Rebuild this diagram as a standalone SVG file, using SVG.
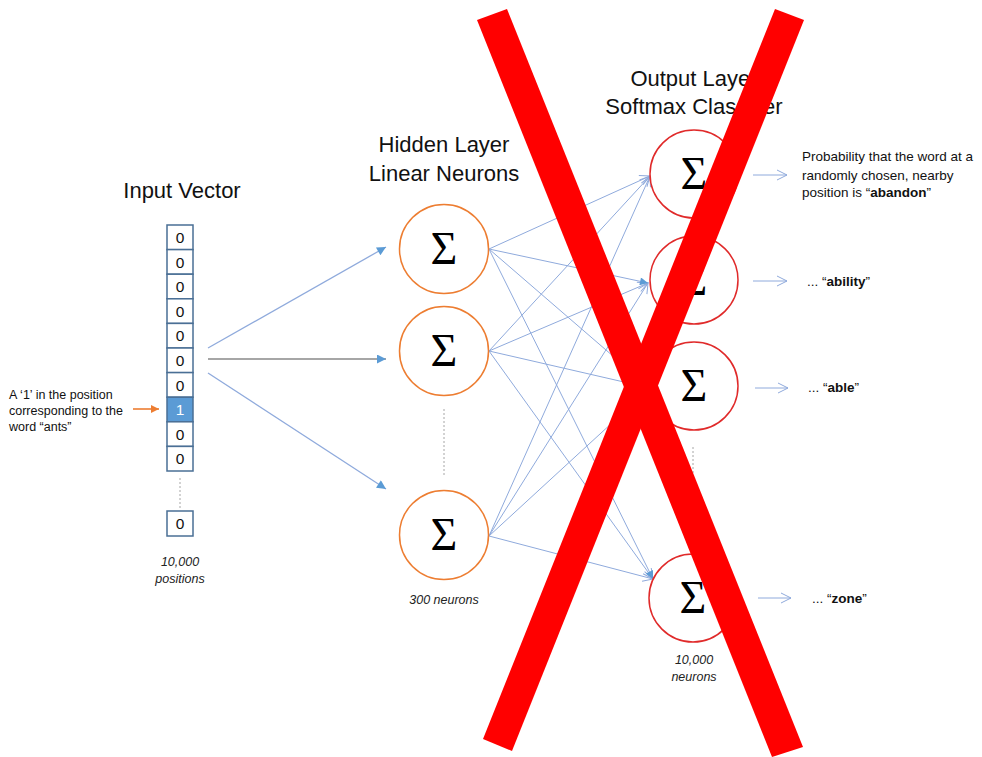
<svg xmlns="http://www.w3.org/2000/svg" width="982" height="757" viewBox="0 0 982 757">
  <style>
    .title { font-family: "Liberation Sans", Arial, sans-serif; font-size: 22px; fill: #111; text-anchor: middle; }
    .note { font-family: "Liberation Sans", Arial, sans-serif; font-size: 13.5px; fill: #111; }
    .note.left { font-size: 12.5px; }
    .cap { font-family: "Liberation Sans", Arial, sans-serif; font-size: 12.5px; font-style: italic; fill: #222; text-anchor: middle; }
    .cell { fill: #fff; stroke: #4a6f95; stroke-width: 1.5; }
    .cell.hot { fill: #5b9bd5; }
    .digit { font-family: "Liberation Sans", Arial, sans-serif; font-size: 15.5px; fill: #111; text-anchor: middle; }
    .digit.hot { fill: #fff; }
    .hidden { fill: #fff; stroke: #ed7d31; stroke-width: 1.5; }
    .output { fill: #fff; stroke: #e02a2a; stroke-width: 1.5; }
    .sigma { font-family: "Liberation Serif", "DejaVu Serif", serif; font-size: 46px; fill: #000; text-anchor: middle; }
    .dots { stroke: #a6a6a6; stroke-width: 1; stroke-dasharray: 2 2; fill: none; }
    .link { stroke: #8faadc; stroke-width: 1; fill: none; }
    .feed { stroke: #8faadc; stroke-width: 1.3; fill: none; marker-end: url(#tri); }
    .feed.mid { stroke: #a6a6a6; stroke-width: 2; }
    .cross { fill: #ff0000; }
  </style>
  <defs>
    <marker id="tri" viewBox="0 0 10 10" refX="10" refY="5" markerWidth="11" markerHeight="9" markerUnits="userSpaceOnUse" orient="auto">
      <path d="M0,0 L10,5 L0,10 z" fill="#5b9bd5"/>
    </marker>
    <marker id="triSmall" viewBox="0 0 10 10" refX="10" refY="5" markerWidth="9" markerHeight="8" markerUnits="userSpaceOnUse" orient="auto">
      <path d="M0,0 L10,5 L0,10 z" fill="#5b9bd5"/>
    </marker>
    <marker id="chev" viewBox="0 0 12 12" refX="11" refY="6" markerWidth="12" markerHeight="12" markerUnits="userSpaceOnUse" orient="auto">
      <path d="M1,1 L11,6 L1,11" fill="none" stroke="#8faadc" stroke-width="1"/>
    </marker>
    <marker id="orangeTri" viewBox="0 0 10 10" refX="10" refY="5" markerWidth="9" markerHeight="8" markerUnits="userSpaceOnUse" orient="auto">
      <path d="M0,0 L10,5 L0,10 z" fill="#ed7d31"/>
    </marker>
  </defs>

  <rect width="982" height="757" fill="#fff"/>

  <!-- layer titles -->
  <text class="title" x="182" y="198">Input Vector</text>
  <text class="title" x="444" y="152">Hidden Layer</text>
  <text class="title" x="444" y="181">Linear Neurons</text>
  <text class="title" x="694" y="86">Output Layer</text>
  <text class="title" x="694" y="114">Softmax Classifier</text>

  <!-- connectors -->
  <g id="connectors">
    <!-- input vector to hidden layer -->
    <line class="feed" x1="208" y1="348" x2="386" y2="247"/>
    <line class="feed mid" x1="208" y1="359" x2="386" y2="359"/>
    <line class="feed" x1="208" y1="373" x2="386" y2="489"/>
    <!-- hidden layer to output layer -->
    <g marker-end="url(#chev)">
      <line class="link" x1="489" y1="249" x2="650" y2="176"/>
      <line class="link" x1="489" y1="351" x2="650" y2="176"/>
      <line class="link" x1="489" y1="536" x2="650" y2="176"/>
      <line class="link" x1="489" y1="351" x2="648" y2="283"/>
      <line class="link" x1="489" y1="536" x2="648" y2="283"/>
      <line class="link" x1="489" y1="249" x2="650" y2="388"/>
      <line class="link" x1="489" y1="351" x2="650" y2="388"/>
      <line class="link" x1="489" y1="536" x2="650" y2="388"/>
      <line class="link" x1="489" y1="351" x2="653" y2="579"/>
      <line class="link" x1="489" y1="536" x2="653" y2="579"/>
    </g>
    <line class="link" x1="489" y1="249" x2="648" y2="283" marker-end="url(#triSmall)"/>
    <line class="link" x1="489" y1="249" x2="653" y2="579" stroke="#6f97cf" marker-end="url(#triSmall)"/>
    <!-- output neurons to their probabilities -->
    <g marker-end="url(#chev)">
      <line class="link" x1="753" y1="175" x2="787" y2="175"/>
      <line class="link" x1="753" y1="281" x2="787" y2="281"/>
      <line class="link" x1="755" y1="388" x2="788" y2="388"/>
      <line class="link" x1="758" y1="598" x2="791" y2="598"/>
    </g>
    <!-- pointer to the hot cell -->
    <line x1="133" y1="409" x2="159" y2="409" stroke="#ed7d31" stroke-width="1.6" marker-end="url(#orangeTri)"/>
  </g>

  <!-- one-hot input vector -->
  <g id="input-vector">
    <rect class="cell" x="167" y="225" width="26" height="24.6"/>
    <rect class="cell" x="167" y="249.6" width="26" height="24.6"/>
    <rect class="cell" x="167" y="274.2" width="26" height="24.6"/>
    <rect class="cell" x="167" y="298.8" width="26" height="24.6"/>
    <rect class="cell" x="167" y="323.4" width="26" height="24.6"/>
    <rect class="cell" x="167" y="348" width="26" height="24.6"/>
    <rect class="cell" x="167" y="372.6" width="26" height="24.6"/>
    <rect class="cell hot" x="167" y="397.2" width="26" height="24.6"/>
    <rect class="cell" x="167" y="421.8" width="26" height="24.6"/>
    <rect class="cell" x="167" y="446.4" width="26" height="24.6"/>
    <rect class="cell" x="167" y="511" width="26" height="25"/>
    <text class="digit" x="180" y="243">0</text>
    <text class="digit" x="180" y="267.6">0</text>
    <text class="digit" x="180" y="292.2">0</text>
    <text class="digit" x="180" y="316.8">0</text>
    <text class="digit" x="180" y="341.4">0</text>
    <text class="digit" x="180" y="366">0</text>
    <text class="digit" x="180" y="390.6">0</text>
    <text class="digit hot" x="180" y="415.2">1</text>
    <text class="digit" x="180" y="439.8">0</text>
    <text class="digit" x="180" y="464.4">0</text>
    <text class="digit" x="180" y="529">0</text>
    <line class="dots" x1="180" y1="478" x2="180" y2="508"/>
    <text class="cap" x="180" y="566">10,000</text>
    <text class="cap" x="180" y="583">positions</text>
  </g>

  <g id="input-note">
    <text class="note left" x="9" y="399">A ‘1’ in the position</text>
    <text class="note left" x="9" y="415">corresponding to the</text>
    <text class="note left" x="9" y="431">word “ants”</text>
  </g>

  <!-- hidden layer -->
  <g id="hidden-1">
    <circle class="hidden" cx="444" cy="249" r="44.5"/>
    <text class="sigma" x="444" y="264">Σ</text>
  </g>
  <g id="hidden-2">
    <circle class="hidden" cx="444" cy="351" r="44.5"/>
    <text class="sigma" x="444" y="366">Σ</text>
  </g>
  <line class="dots" x1="444" y1="409" x2="444" y2="475"/>
  <g id="hidden-3">
    <circle class="hidden" cx="444" cy="535" r="44.5"/>
    <text class="sigma" x="444" y="550">Σ</text>
  </g>
  <text class="cap" x="444" y="604">300 neurons</text>

  <!-- output layer -->
  <g id="output-1">
    <circle class="output" cx="694" cy="174" r="44"/>
    <text class="sigma" x="694" y="189">Σ</text>
  </g>
  <g id="output-2">
    <circle class="output" cx="694" cy="280" r="44"/>
    <text class="sigma" x="694" y="295">Σ</text>
  </g>
  <g id="output-3">
    <circle class="output" cx="694" cy="386" r="44"/>
    <text class="sigma" x="694" y="401">Σ</text>
  </g>
  <line class="dots" x1="693" y1="447" x2="693" y2="530"/>
  <g id="output-4">
    <circle class="output" cx="693" cy="598" r="44"/>
    <text class="sigma" x="693" y="613">Σ</text>
  </g>
  <text class="cap" x="694" y="664">10,000</text>
  <text class="cap" x="694" y="681">neurons</text>

  <!-- output labels -->
  <g id="labels">
    <text class="note" x="802" y="161">Probability that the word at a</text>
    <text class="note" x="802" y="179.5">randomly chosen, nearby</text>
    <text class="note" x="802" y="197">position is “<tspan font-weight="bold">abandon</tspan>”</text>
    <text class="note" x="807" y="285.5">... “<tspan font-weight="bold">ability</tspan>”</text>
    <text class="note" x="808" y="392">... “<tspan font-weight="bold">able</tspan>”</text>
    <text class="note" x="812" y="602.5">... “<tspan font-weight="bold">zone</tspan>”</text>
  </g>

  <!-- big red cross over the output side -->
  <g id="cross">
    <polygon class="cross" points="477,20 507,9 803,747 772,757"/>
    <polygon class="cross" points="775,9 804,20 512,751 483,739"/>
  </g>
</svg>
